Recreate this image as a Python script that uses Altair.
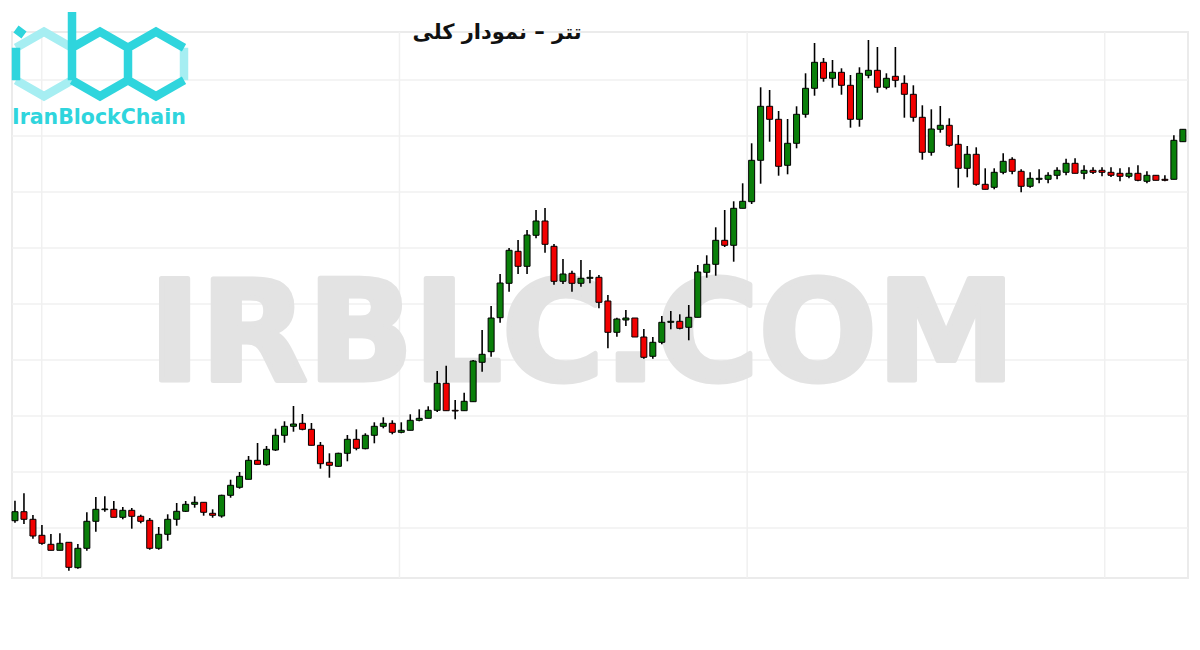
import altair as alt
import pandas as pd

# ---------------- data (Tether / USDT price, Toman) ----------------
opens = [6065, 6515, 6135, 5335, 4885, 4585, 4985, 3715, 4685, 6035,
         6615, 6635, 6235, 6585, 6285, 6085, 4685, 5385, 6135, 6535,
         6885, 6985, 6435, 6300, 7335, 7735, 8135, 9085, 8865, 9600,
         10335, 10785, 10935, 10635, 9835, 8985, 8785, 9435, 10135, 9665,
         10335, 10785, 10935, 10485, 10585, 11085, 11185, 11585, 12935, 11585,
         11565, 12015, 13985, 14515, 16215, 17935, 19535, 18785, 20335, 21050,
         19785, 18035, 18435, 17935, 18185, 18235, 17050, 15485, 16100, 16200,
         15250, 14285, 14985, 15985, 16035, 15735, 16235, 18485, 18885, 20085,
         19835, 21685, 22015, 24085, 26785, 26135, 23835, 24935, 26385, 27685,
         28985, 28185, 28485, 27835, 26135, 28335, 28585, 27735, 28285, 27935,
         27385, 26235, 24485, 25635, 25835, 24885, 23685, 24385, 22885, 22735,
         23485, 24135, 23535, 22785, 23135, 23135, 23335, 23485, 23935, 23435,
         23585, 23585, 23485, 23435, 23285, 23435, 23035, 23335, 23135, 23135,
         25015]
highs = [7065, 7435, 6350, 5850, 5400, 5435, 4985, 4900, 6485, 7250,
         7285, 7050, 6750, 6700, 6365, 6200, 5750, 6385, 6950, 7050,
         7285, 6985, 6635, 7365, 8115, 8500, 9300, 9950, 9800, 10665,
         11035, 11800, 11400, 10950, 10000, 9435, 9465, 10350, 10635, 10435,
         10985, 11235, 11085, 10985, 11385, 11635, 11785, 13550, 13815, 12100,
         12465, 14100, 15600, 16800, 18400, 19700, 20100, 20600, 21600, 21700,
         19900, 19150, 18565, 19100, 18600, 18350, 17350, 16215, 16600, 16200,
         15650, 15250, 16300, 16550, 16385, 16850, 18850, 19335, 20735, 21600,
         22035, 22935, 24935, 27735, 27600, 26550, 26150, 26785, 28435, 29950,
         29200, 29100, 28685, 28350, 28735, 30100, 29750, 28435, 29750, 28335,
         27835, 26835, 26635, 26800, 26185, 25350, 24800, 24735, 23685, 23685,
         24435, 24235, 23635, 23485, 23635, 23485, 23735, 24165, 24185, 23835,
         23735, 23735, 23735, 23685, 23735, 23835, 23535, 23335, 23335, 25335,
         25635]
lows = [5965, 5900, 5165, 4865, 4585, 4585, 3565, 3665, 4565, 5515,
        6515, 6235, 6135, 5665, 5935, 4615, 4615, 5065, 5815, 6500,
        6715, 6315, 6215, 6215, 7215, 7665, 8135, 8885, 8815, 9550,
        9965, 10515, 10585, 9835, 8665, 8215, 8765, 9035, 9585, 9635,
        9935, 10685, 10385, 10435, 10585, 11035, 11185, 11500, 11565, 11135,
        11565, 12015, 13515, 14265, 15965, 17515, 18400, 18400, 20185, 19465,
        17865, 17900, 17515, 17765, 17935, 16685, 14685, 15265, 15800, 15250,
        14165, 14165, 14885, 15635, 15635, 15085, 16235, 18215, 18315, 19750,
        19015, 21685, 21900, 22915, 25015, 23315, 23385, 24685, 26215, 27315,
        28015, 27715, 27365, 25715, 25765, 28185, 27465, 27635, 27735, 26215,
        26015, 24115, 24315, 25465, 24765, 22715, 23235, 22815, 22635, 22635,
        23385, 23385, 22485, 22715, 22935, 22935, 23135, 23335, 23435, 23135,
        23400, 23285, 23250, 23035, 23185, 23035, 22935, 23085, 23035, 23135,
        25015]
closes = [6515, 6135, 5300, 4935, 4585, 4935, 3735, 4685, 6035, 6635,
          6650, 6235, 6585, 6285, 6035, 4685, 5385, 6135, 6535, 6885,
          6985, 6485, 6335, 7335, 7835, 8285, 9085, 8885, 9635, 10335,
          10785, 10900, 10635, 9835, 8915, 8835, 9435, 10135, 9685, 10335,
          10785, 10935, 10485, 10585, 11085, 11185, 11585, 12935, 11565, 11550,
          12035, 14050, 14385, 16200, 17950, 19585, 18785, 20350, 21050, 19885,
          18035, 18400, 17935, 18185, 18235, 16985, 15485, 16150, 16200, 15250,
          14235, 14985, 15985, 16035, 15685, 16235, 18500, 18885, 20085, 19835,
          21685, 22035, 24085, 26785, 26135, 23785, 24935, 26385, 27685, 28985,
          28185, 28485, 27835, 26135, 28435, 28585, 27735, 28185, 28085, 27385,
          26235, 24485, 25650, 25835, 24835, 23685, 24385, 22885, 22635, 23485,
          24035, 23535, 22785, 23185, 23185, 23335, 23585, 23935, 23435, 23585,
          23485, 23485, 23335, 23285, 23435, 23085, 23335, 23085, 23085, 25085,
          25635]

grid_levels = [5700, 8500, 11300, 14100, 16900, 19700, 22500, 25300, 28100]
period_marks = [2.98, 42.8, 81.5, 121.3]

title_text = "تتر – نمودار کلی"
watermark_text = "IRBLC.COM"
logo_text = "IranBlockChain"

# ---------------- chart ----------------
df = pd.DataFrame({"i": list(range(len(opens))), "open": opens, "high": highs,
                   "low": lows, "close": closes})
one = pd.DataFrame({"k": [0]})

GREEN = "#0a7f0a"
RED = "#f20000"
CYAN = "#2fd5dd"
CYAN_LIGHT = "#a6eef2"
GRID = "#f0f0f0"
WM = "#e3e3e3"

x_scale = alt.Scale(domain=[-0.22, 130.46], nice=False, zero=False)
y_scale = alt.Scale(domain=[1700, 31700], nice=False, zero=False)

border = alt.Chart(one).mark_rect(fillOpacity=0, stroke="#ebebeb", strokeWidth=2).encode(
    x=alt.value(4), x2=alt.value(1180), y=alt.value(24), y2=alt.value(570))

hgrid = alt.Chart(pd.DataFrame({"level": grid_levels})).mark_rule(
    color=GRID, strokeWidth=1.5).encode(
    y=alt.Y("level:Q", scale=y_scale, axis=None),
    x=alt.value(4), x2=alt.value(1180))

vgrid = alt.Chart(pd.DataFrame({"pos": period_marks})).mark_rule(
    color=GRID, strokeWidth=1.5).encode(
    x=alt.X("pos:Q", scale=x_scale, axis=None),
    y=alt.value(24), y2=alt.value(570))

watermark = alt.Chart(one).mark_text(
    text=watermark_text, font="DejaVu Sans", fontWeight="bold", fontSize=139,
    color=WM, stroke=WM, strokeWidth=5, strokeJoin="round",
    align="center", baseline="alphabetic").encode(
    x=alt.value(574), y=alt.value(372))

dark_path = ("M -0.28 -0.5 L -0.28 0.182 "
             "M -0.28 -0.142 L 0 -0.303 L 0.28 -0.142 L 0.28 0.182 L 0 0.343 L -0.28 0.182 "
             "M 0.28 -0.142 L 0.56 -0.303 L 0.84 -0.142 "
             "M 0.84 0.182 L 0.56 0.343 L 0.28 0.182 "
             "M -0.84 -0.142 L -0.84 0.182 "
             "M -0.84 -0.33 L -0.76 -0.27")
light_path = ("M -0.84 -0.142 L -0.56 -0.303 L -0.28 -0.142 "
              "M -0.84 0.182 L -0.56 0.343 L -0.28 0.182 "
              "M 0.84 -0.142 L 0.84 0.182")

logo_light = alt.Chart(one).mark_point(
    shape=light_path, size=40000, filled=False, stroke=CYAN_LIGHT,
    strokeWidth=8.5, opacity=1, strokeCap="butt", strokeJoin="miter").encode(
    x=alt.value(92), y=alt.value(54))
logo_dark = alt.Chart(one).mark_point(
    shape=dark_path, size=40000, filled=False, stroke=CYAN,
    strokeWidth=8.5, opacity=1, strokeCap="butt", strokeJoin="miter").encode(
    x=alt.value(92), y=alt.value(54))
logo_label = alt.Chart(one).mark_text(
    text=logo_text, font="DejaVu Sans", fontWeight="bold", fontSize=20.5,
    color=CYAN, align="left", baseline="alphabetic").encode(
    x=alt.value(4), y=alt.value(116))

title = alt.Chart(one).mark_text(
    text=title_text, font="DejaVu Sans", fontWeight="bold", fontSize=21,
    color="#111111", align="center", baseline="alphabetic").encode(
    x=alt.value(489), y=alt.value(31))

wicks = alt.Chart(df).mark_rule(color="black", strokeWidth=1.6).encode(
    x=alt.X("i:Q", scale=x_scale, axis=None),
    y=alt.Y("low:Q", scale=y_scale, axis=None),
    y2="high:Q")

bodies = alt.Chart(df).mark_bar(size=6, stroke="black", strokeWidth=1).encode(
    x=alt.X("i:Q", scale=x_scale, axis=None),
    y=alt.Y("open:Q", scale=y_scale, axis=None),
    y2="close:Q",
    color=alt.condition("datum.open <= datum.close", alt.value(GREEN), alt.value(RED)))

chart = alt.layer(
    border, hgrid, vgrid, watermark, logo_light, logo_dark, logo_label, title,
    wicks, bodies
).properties(
    width=1184, height=600, padding=0,
    autosize=alt.AutoSizeParams(type="none"),
    background="white"
).configure_view(strokeWidth=0)

chart.save("out.html", embed_options={"renderer": "svg", "actions": False})
